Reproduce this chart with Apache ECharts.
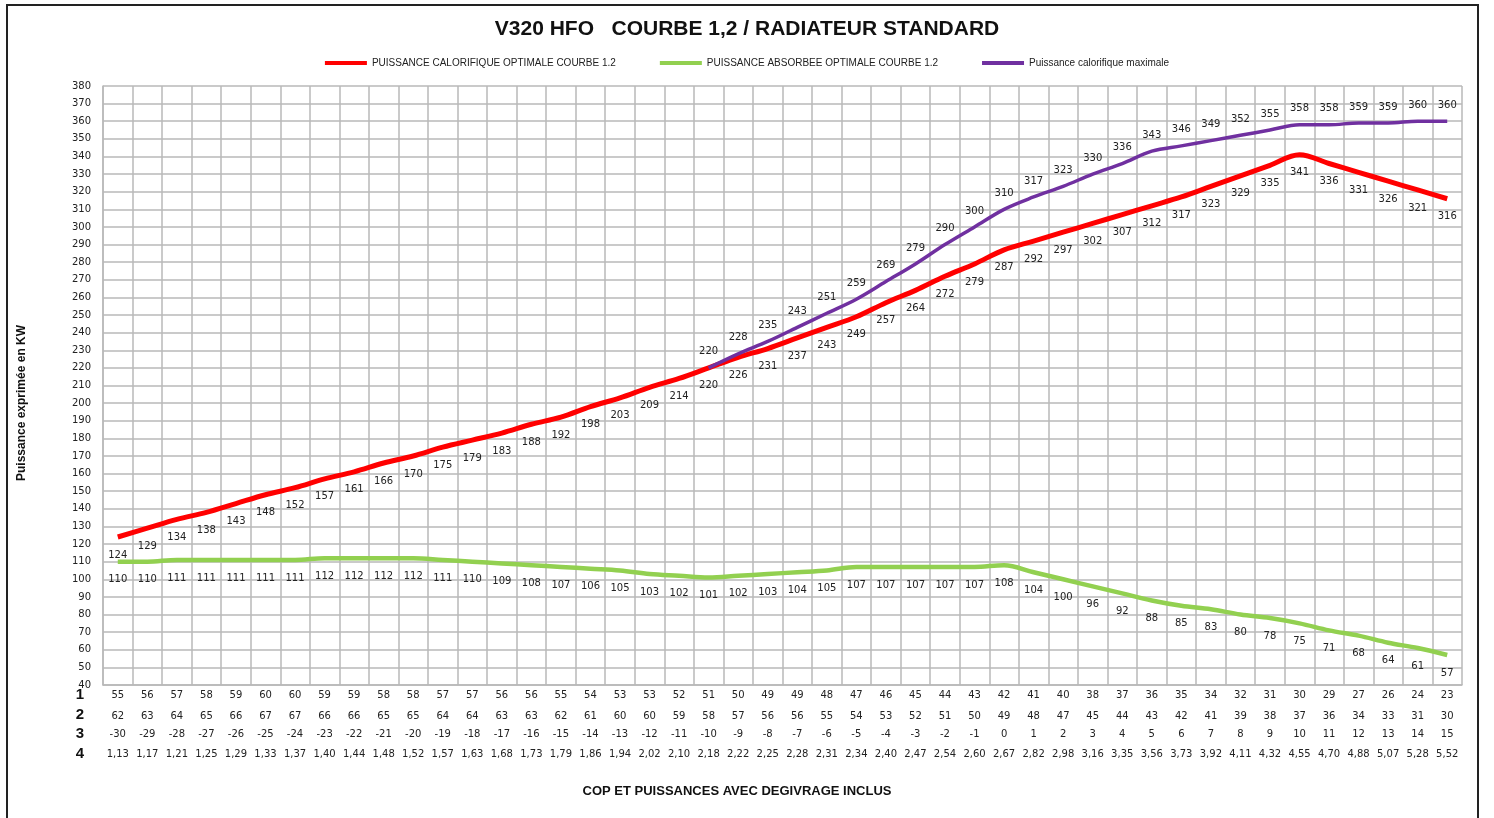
<!DOCTYPE html>
<html>
<head>
<meta charset="utf-8">
<script src="https://cdn.jsdelivr.net/npm/echarts@6/dist/echarts.min.js"></script>
<style>
  html, body { margin: 0; padding: 0; background: #fff; }
  #main { width: 1494px; height: 818px; }
</style>
</head>
<body>
<div id="main"></div>
<script>
// table rows under the chart
const row1 = [55,56,57,58,59,60,60,59,59,58,58,57,57,56,56,55,54,53,53,52,51,50,49,49,48,47,46,45,44,43,42,41,40,38,37,36,35,34,32,31,30,29,27,26,24,23];
const row2 = [62,63,64,65,66,67,67,66,66,65,65,64,64,63,63,62,61,60,60,59,58,57,56,56,55,54,53,52,51,50,49,48,47,45,44,43,42,41,39,38,37,36,34,33,31,30];
const row3 = [-30,-29,-28,-27,-26,-25,-24,-23,-22,-21,-20,-19,-18,-17,-16,-15,-14,-13,-12,-11,-10,-9,-8,-7,-6,-5,-4,-3,-2,-1,0,1,2,3,4,5,6,7,8,9,10,11,12,13,14,15];
const row4 = ['1,13','1,17','1,21','1,25','1,29','1,33','1,37','1,40','1,44','1,48','1,52','1,57','1,63','1,68','1,73','1,79','1,86','1,94','2,02','2,10','2,18','2,22','2,25','2,28','2,31','2,34','2,40','2,47','2,54','2,60','2,67','2,82','2,98','3,16','3,35','3,56','3,73','3,92','4,11','4,32','4,55','4,70','4,88','5,07','5,28','5,52'];

// series
const calorifique = [124,129,134,138,143,148,152,157,161,166,170,175,179,183,188,192,198,203,209,214,220,226,231,237,243,249,257,264,272,279,287,292,297,302,307,312,317,323,329,335,341,336,331,326,321,316];
const absorbee = [110,110,111,111,111,111,111,112,112,112,112,111,110,109,108,107,106,105,103,102,101,102,103,104,105,107,107,107,107,107,108,104,100,96,92,88,85,83,80,78,75,71,68,64,61,57];
const maximale = [null,null,null,null,null,null,null,null,null,null,null,null,null,null,null,null,null,null,null,null,220,228,235,243,251,259,269,279,290,300,310,317,323,330,336,343,346,349,352,355,358,358,359,359,360,360];

const chart = echarts.init(document.getElementById('main'));
const gridColor = '#b8b8b8';
const numFont = 'DejaVu Sans';

function rowAxis(data, offset) {
  return {
    type: 'category',
    data: data,
    position: 'bottom',
    offset: offset,
    boundaryGap: true,
    axisLine: { show: false },
    axisTick: { show: false },
    splitLine: { show: false },
    axisLabel: { interval: 0, margin: 5, fontSize: 10, color: '#222', fontFamily: numFont }
  };
}

function lineSeries(name, data, color, width, labelPos, dist) {
  return {
    name: name,
    type: 'line',
    data: data,
    smooth: 0.35,
    symbol: 'circle',
    symbolSize: 0.01,
    lineStyle: { color: color, width: width },
    itemStyle: { color: color },
    label: { show: true, position: labelPos, distance: dist, fontSize: 10, color: '#222', fontFamily: numFont }
  };
}

const option = {
  backgroundColor: '#fff',
  title: {
    text: 'V320 HFO   COURBE 1,2 / RADIATEUR STANDARD',
    left: 'center',
    top: 14,
    textStyle: { fontSize: 21, fontWeight: 'bold', color: '#111', fontFamily: 'Liberation Sans' }
  },
  legend: {
    top: 53,
    left: 'center',
    icon: 'rect',
    itemWidth: 42,
    itemHeight: 4,
    itemGap: 44,
    textStyle: { fontSize: 10, color: '#222', fontFamily: 'Liberation Sans' },
    data: ['PUISSANCE CALORIFIQUE OPTIMALE COURBE 1.2', 'PUISSANCE ABSORBEE OPTIMALE COURBE 1.2', 'Puissance calorifique maximale']
  },
  grid: { left: 103, right: 32, top: 86, bottom: 133 },
  xAxis: [
    {
      type: 'category',
      data: row1,
      boundaryGap: true,
      axisLine: { lineStyle: { color: gridColor, width: 1.5 } },
      axisTick: { show: false },
      splitLine: { show: true, interval: 0, lineStyle: { color: gridColor, width: 1.5 } },
      axisLabel: { interval: 0, margin: 5, fontSize: 10, color: '#222', fontFamily: numFont }
    },
    rowAxis(row2, 21),
    rowAxis(row3, 39),
    rowAxis(row4, 59)
  ],
  yAxis: {
    type: 'value',
    min: 40,
    max: 380,
    interval: 10,
    axisLine: { show: true, lineStyle: { color: gridColor, width: 1.5 } },
    axisTick: { show: false },
    splitLine: { lineStyle: { color: gridColor, width: 1.5 } },
    axisLabel: { margin: 12, fontSize: 10, color: '#222', fontFamily: numFont }
  },
  series: [
    lineSeries('PUISSANCE CALORIFIQUE OPTIMALE COURBE 1.2', calorifique, '#ff0000', 5, 'bottom', 13),
    lineSeries('PUISSANCE ABSORBEE OPTIMALE COURBE 1.2', absorbee, '#92d050', 4.5, 'bottom', 13),
    lineSeries('Puissance calorifique maximale', maximale, '#7030a0', 3.5, 'top', 11)
  ],
  graphic: [
    { type: 'rect', shape: { x: 7, y: 5, width: 1471, height: 830 }, style: { fill: 'none', stroke: '#222', lineWidth: 2 }, silent: true },
    { type: 'text', x: 80, y: 695, style: { text: '1', font: 'bold 15px Liberation Sans', fill: '#111', align: 'center', verticalAlign: 'middle' } },
    { type: 'text', x: 80, y: 715, style: { text: '2', font: 'bold 15px Liberation Sans', fill: '#111', align: 'center', verticalAlign: 'middle' } },
    { type: 'text', x: 80, y: 734, style: { text: '3', font: 'bold 15px Liberation Sans', fill: '#111', align: 'center', verticalAlign: 'middle' } },
    { type: 'text', x: 80, y: 754, style: { text: '4', font: 'bold 15px Liberation Sans', fill: '#111', align: 'center', verticalAlign: 'middle' } },
    { type: 'text', x: 737, y: 791, style: { text: 'COP ET PUISSANCES AVEC DEGIVRAGE INCLUS', font: 'bold 13px Liberation Sans', fill: '#111', align: 'center', verticalAlign: 'middle' } },
    { type: 'text', x: 22, y: 403, rotation: Math.PI / 2, style: { text: 'Puissance exprimée en KW', font: 'bold 12px Liberation Sans', fill: '#111', align: 'center', verticalAlign: 'middle' } }
  ]
};

chart.setOption(option);
</script>
</body>
</html>
